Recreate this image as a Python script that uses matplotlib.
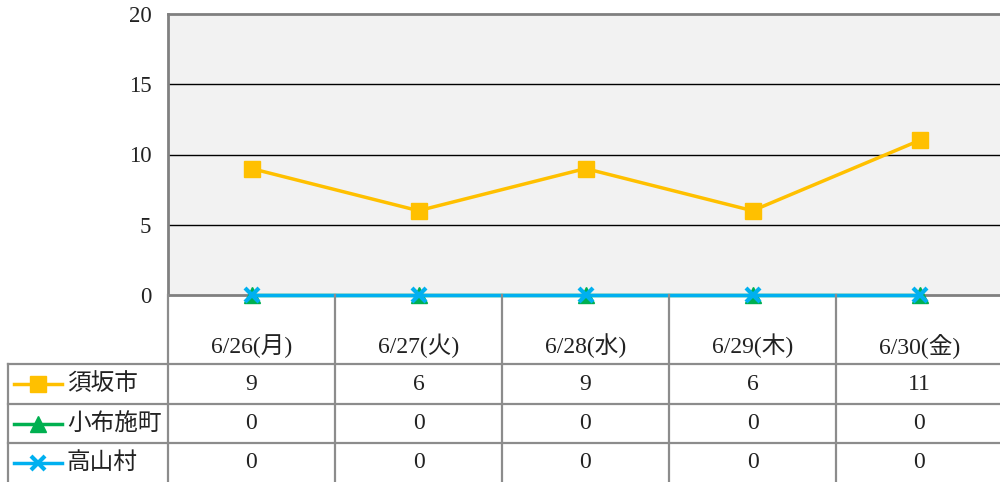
import matplotlib
matplotlib.use("Agg")
import matplotlib.pyplot as plt

plt.rcParams['font.family'] = ['Liberation Serif', 'Noto Sans CJK JP', 'DejaVu Sans']

categories = ["6/26(月)", "6/27(火)", "6/28(水)", "6/29(木)", "6/30(金)"]
series_names = ["須坂市", "小布施町", "高山村"]
suzaka = [9, 6, 9, 6, 11]
obuse = [0, 0, 0, 0, 0]
takayama = [0, 0, 0, 0, 0]
series_values = [suzaka, obuse, takayama]
colors = ["#FFC000", "#00B050", "#00B0F0"]
markers = ["s", "^", "x"]
yticks = [0, 5, 10, 15, 20]

W, H = 1000, 482
fig = plt.figure(figsize=(W / 100, H / 100), dpi=100)

px_left, px_right, px_top, px_bottom = 168, 1003, 14, 295
ax = fig.add_axes([px_left / W, 1 - px_bottom / H, (px_right - px_left) / W, (px_bottom - px_top) / H])
ax.set_facecolor("#F2F2F2")
x = list(range(len(categories)))
ax.set_xlim(-0.5, len(categories) - 0.5)
ax.set_ylim(0, 20)
ax.set_yticks(yticks)
ax.set_yticklabels([str(v) for v in yticks], fontsize=16.5)
ax.tick_params(axis='y', length=0, pad=12, colors="#222222")
ax.set_xticks([])
for v in yticks[1:-1]:
    ax.axhline(v, color="#000000", lw=1.0, zorder=1)
for s in ["top", "left", "bottom"]:
    ax.spines[s].set_color("#808080")
    ax.spines[s].set_linewidth(2.0)
ax.spines["right"].set_visible(False)

for vals, c, m in zip(series_values, colors, markers):
    kw = dict(markersize=11) if m != "x" else dict(markersize=10, markeredgewidth=3)
    ax.plot(x, vals, color=c, lw=2.5, marker=m, markerfacecolor=c, markeredgecolor=c,
            zorder=4, clip_on=False, **kw)

tax = fig.add_axes([0, 0, 1, 1], facecolor="none")
tax.set_xlim(0, W)
tax.set_ylim(H, 0)
tax.axis("off")
grid_c = "#8C8C8C"
col_w = (px_right - px_left) / len(categories)
row_y = [364, 404, 443, 483]
for i in range(len(categories) + 1):
    xx = px_left + i * col_w
    tax.plot([xx, xx], [px_bottom, H], color=grid_c, lw=1.6)
tax.plot([8, 8], [row_y[0], H], color=grid_c, lw=1.6)
for yy in row_y[:-1]:
    tax.plot([8, px_right], [yy, yy], color=grid_c, lw=1.6)

for i, cat in enumerate(categories):
    tax.text(px_left + (i + 0.5) * col_w, 346, cat, ha="center", va="center", fontsize=17, color="#222222")

for r, (name, vals, c, m) in enumerate(zip(series_names, series_values, colors, markers)):
    yc = (row_y[r] + row_y[r + 1]) / 2
    tax.plot([14, 62], [yc, yc], color=c, lw=2.5)
    kw = dict(markersize=11) if m != "x" else dict(markersize=10, markeredgewidth=3)
    tax.plot([38], [yc], marker=m, color=c, markerfacecolor=c, markeredgecolor=c, **kw)
    tax.text(67, yc, name, ha="left", va="center", fontsize=17, color="#222222")
    for i, v in enumerate(vals):
        tax.text(px_left + (i + 0.5) * col_w, yc, str(v), ha="center", va="center", fontsize=17, color="#222222")

fig.savefig("out.png", dpi=100)
